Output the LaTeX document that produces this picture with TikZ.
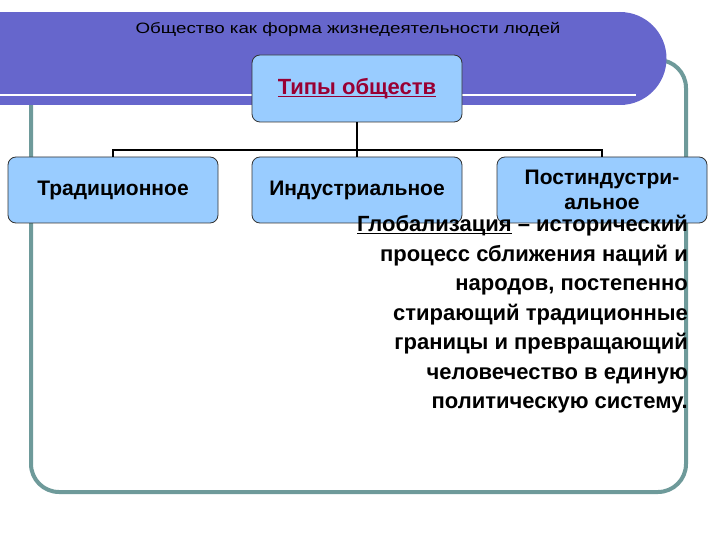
\documentclass[tikz,border=0pt]{standalone}
\usepackage{fontspec}
\setmainfont{Liberation Sans}
\newcommand\myul[1]{\setbox0\hbox{#1}\rlap{\box0}\setbox0\hbox{#1}\rlap{\rule[-2.8pt]{\wd0}{1.4pt}}\hspace{\wd0}}
\begin{document}
\begin{tikzpicture}[x=1pt,y=-1pt,
  box/.style={draw=black!80,line width=0.8pt,fill=boxblue,rounded corners=8pt,minimum width=210pt,minimum height=66pt,align=center,font=\bfseries\fontsize{21}{25}\selectfont,inner sep=1pt},
  conn/.style={line width=2pt}]
\definecolor{banner}{HTML}{6666CC}
\definecolor{boxblue}{HTML}{99CCFF}
\definecolor{frame}{HTML}{6E9A9A}
\definecolor{title}{HTML}{990033}
\useasboundingbox (0,0) rectangle (720,540);
\fill[white] (0,0) rectangle (720,540);
\draw[frame,line width=4pt,rounded corners=28pt] (31,60) rectangle (686,492);
\fill[banner] (0,12) rectangle (620,105);
\fill[banner] (620,58.5) circle[radius=46.5];
\draw[white,line width=2.5pt] (0,95) -- (636,95);
\node[font=\fontsize{15}{17}\selectfont] (hdr) at (348,29) {\scalebox{1.25}[1]{Общество как форма жизнедеятельности людей}};
\node[box,minimum height=67pt] (top) at (357,88.5) {\color{title}\fontsize{22}{25}\selectfont\myul{Типы обществ}};
\node[box] (t) at (113,190) {Традиционное};
\node[box] (i) at (357,190) {Индустриальное};
\node[box] (p) at (602,190) {Постиндустри-\\альное};
\coordinate (j) at (357,150);
\draw[conn] (top.south) -- (j);
\draw[conn] (t.north) |- (j) -| (p.north);
\draw[conn] (j) -- (i.north);
\node[align=right,anchor=north east,font=\bfseries\fontsize{22}{29.5}\selectfont,inner sep=0pt] (txt) at (688,215)
{\myul{Глобализация} – исторический\\процесс сближения наций и\\народов, постепенно\\стирающий традиционные\\границы и превращающий\\человечество в единую\\политическую систему.};
\end{tikzpicture}
\end{document}
